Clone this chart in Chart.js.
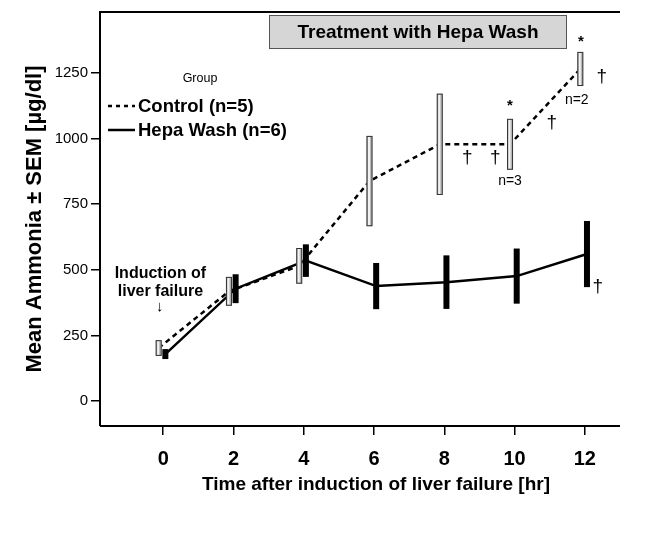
<!DOCTYPE html>
<html>
<head>
<meta charset="utf-8">
<script src="https://cdn.jsdelivr.net/npm/chart.js@4.4.0/dist/chart.umd.min.js"></script>
<style>
html,body{margin:0;padding:0;background:#fff;}
#wrap{width:660px;height:535px;position:relative;}
</style>
</head>
<body>
<div id="wrap"><canvas id="c" width="660" height="535"></canvas></div>
<script>
// ---- data ----
const timePoints = [0, 2, 4, 6, 8, 10, 12];
const xTickLabels = [0, 2, 4, 6, 8, 10, 12];
const yTickLabels = [0, 250, 500, 750, 1000, 1250];
const controlMean = [202, 418, 515, 838, 978, 978, 1265];
const controlSEM  = [30, 55, 68, 172, 193, 97, 65];
const hepaMean    = [179, 428, 535, 438, 453, 476, 560];
const hepaSEM     = [19, 55, 62, 88, 102, 105, 126];
const seriesNames = ['Control (n=5)', 'Hepa Wash (n=6)'];
const legendTitle = 'Group';
const boxTitle = 'Treatment with Hepa Wash';
const xTitle = 'Time after induction of liver failure [hr]';
const yTitle = 'Mean Ammonia ± SEM [µg/dl]';
// annotations in data coordinates (hours, µg/dl)
const annotations = [
  {t: '†', x: 8.65, y: 926},
  {t: '†', x: 9.45, y: 926},
  {t: '†', x: 11.06, y: 1059},
  {t: '†', x: 12.48, y: 1235},
  {t: '†', x: 12.37, y: 434},
  {t: '*', x: 9.87, y: 1125, star: true},
  {t: '*', x: 11.89, y: 1370, star: true},
  {t: 'n=3', x: 9.87, y: 838, small: true},
  {t: 'n=2', x: 11.77, y: 1147, small: true},
  {t: 'Induction of', x: -0.08, y: 486, bold: true},
  {t: 'liver failure', x: -0.08, y: 416, bold: true},
  {t: '↓', x: -0.1, y: 360, arrow: true}
];

const FONT = '"Liberation Sans", Arial, sans-serif';
const CTRL_OFF = -0.13, HEPA_OFF = 0.06;

const ctrlPts = timePoints.map((t, i) => ({x: t + CTRL_OFF, y: controlMean[i]}));
const hepaPts = timePoints.map((t, i) => ({x: t + HEPA_OFF, y: hepaMean[i]}));

const extras = {
  id: 'extras',
  beforeDatasetsDraw(chart) {
    const {ctx, chartArea: a} = chart;
    ctx.save();
    ctx.strokeStyle = '#000';
    ctx.lineWidth = 2;
    ctx.beginPath();
    ctx.moveTo(a.left, a.bottom);
    ctx.lineTo(a.left, a.top);
    ctx.lineTo(a.right, a.top);
    ctx.moveTo(a.left, a.bottom);
    ctx.lineTo(a.right, a.bottom);
    ctx.stroke();
    ctx.restore();
  },
  afterDatasetsDraw(chart) {
    const {ctx, chartArea: a} = chart;
    const xs = chart.scales.x, ys = chart.scales.y;
    ctx.save();
    // error bars
    timePoints.forEach((t, i) => {
      let px = xs.getPixelForValue(t + CTRL_OFF);
      let top = ys.getPixelForValue(controlMean[i] + controlSEM[i]);
      let bot = ys.getPixelForValue(controlMean[i] - controlSEM[i]);
      ctx.fillStyle = '#b8b8b8';
      ctx.fillRect(px - 3, top, 6, bot - top);
      ctx.fillStyle = '#f2f2f2';
      ctx.fillRect(px - 1.5, top + 1, 2, bot - top - 2);
      ctx.strokeStyle = '#333';
      ctx.lineWidth = 1;
      ctx.strokeRect(px - 3 + 0.5, top + 0.5, 5, bot - top - 1);
      px = xs.getPixelForValue(t + HEPA_OFF);
      top = ys.getPixelForValue(hepaMean[i] + hepaSEM[i]);
      bot = ys.getPixelForValue(hepaMean[i] - hepaSEM[i]);
      ctx.fillStyle = '#000';
      ctx.fillRect(px - 3, top, 6, bot - top);
    });
    // annotations
    ctx.fillStyle = '#000';
    ctx.textAlign = 'center';
    ctx.textBaseline = 'middle';
    annotations.forEach(an => {
      if (an.bold) ctx.font = 'bold 16px ' + FONT;
      else if (an.star) ctx.font = 'bold 15px ' + FONT;
      else if (an.arrow) ctx.font = '15px ' + FONT;
      else if (an.small) ctx.font = '14px ' + FONT;
      else ctx.font = '19px ' + FONT;
      ctx.fillText(an.t, xs.getPixelForValue(an.x), ys.getPixelForValue(an.y));
    });
    // title box
    const bx = 269, by = 15, bw = 298, bh = 34;
    ctx.fillStyle = '#d6d6d6';
    ctx.fillRect(bx, by, bw, bh);
    ctx.strokeStyle = '#555';
    ctx.lineWidth = 1;
    ctx.strokeRect(bx + 0.5, by + 0.5, bw - 1, bh - 1);
    ctx.fillStyle = '#000';
    ctx.font = 'bold 19px ' + FONT;
    ctx.fillText(boxTitle, bx + bw / 2, by + bh / 2 + 1);
    // legend
    ctx.font = '12.5px ' + FONT;
    ctx.fillText(legendTitle, 200, 79);
    ctx.textAlign = 'left';
    ctx.font = 'bold 18.5px ' + FONT;
    ctx.strokeStyle = '#000';
    ctx.lineWidth = 2.5;
    ctx.setLineDash([4, 4]);
    ctx.beginPath(); ctx.moveTo(108, 106); ctx.lineTo(135, 106); ctx.stroke();
    ctx.setLineDash([]);
    ctx.beginPath(); ctx.moveTo(108, 130); ctx.lineTo(135, 130); ctx.stroke();
    ctx.fillText(seriesNames[0], 138, 107);
    ctx.fillText(seriesNames[1], 138, 131);
    // axis titles
    ctx.textAlign = 'center';
    ctx.font = 'bold 19px ' + FONT;
    ctx.fillText(xTitle, 376, 485);
    ctx.translate(35, (a.top + a.bottom) / 2);
    ctx.rotate(-Math.PI / 2);
    ctx.font = 'bold 22px ' + FONT;
    ctx.fillText(yTitle, 0, 0);
    ctx.restore();
  }
};

new Chart(document.getElementById('c'), {
  type: 'line',
  data: {
    datasets: [
      {label: seriesNames[0], data: ctrlPts, borderColor: '#000', borderWidth: 2.5,
       borderDash: [5, 4], pointRadius: 0, fill: false, tension: 0},
      {label: seriesNames[1], data: hepaPts, borderColor: '#000', borderWidth: 2.5,
       pointRadius: 0, fill: false, tension: 0}
    ]
  },
  options: {
    responsive: false,
    animation: false,
    devicePixelRatio: 1,
    layout: {padding: {top: 12, right: 40, left: 34, bottom: 42}},
    plugins: {legend: {display: false}, tooltip: {enabled: false}, title: {display: false}},
    scales: {
      x: {
        type: 'linear', min: -1.8, max: 13,
        afterBuildTicks(s) { s.ticks = xTickLabels.map(v => ({value: v})); },
        afterFit(s) { s.height = 67; },
        border: {display: false},
        grid: {drawOnChartArea: false, tickLength: 9, color: '#000', lineWidth: 1.5},
        ticks: {color: '#000', font: {family: FONT, size: 20, weight: 'bold'}, padding: 12, maxRotation: 0,
                callback: v => String(v)},
        title: {display: false}
      },
      y: {
        min: -95, max: 1482,
        afterBuildTicks(s) { s.ticks = yTickLabels.map(v => ({value: v})); },
        afterFit(s) { s.width = 66; },
        border: {display: false},
        grid: {drawOnChartArea: false, tickLength: 9, color: '#000', lineWidth: 1.5},
        ticks: {color: '#000', font: {family: FONT, size: 15}, padding: 3, callback: v => String(v)},
        title: {display: false}
      }
    }
  },
  plugins: [extras]
});
</script>
</body>
</html>
